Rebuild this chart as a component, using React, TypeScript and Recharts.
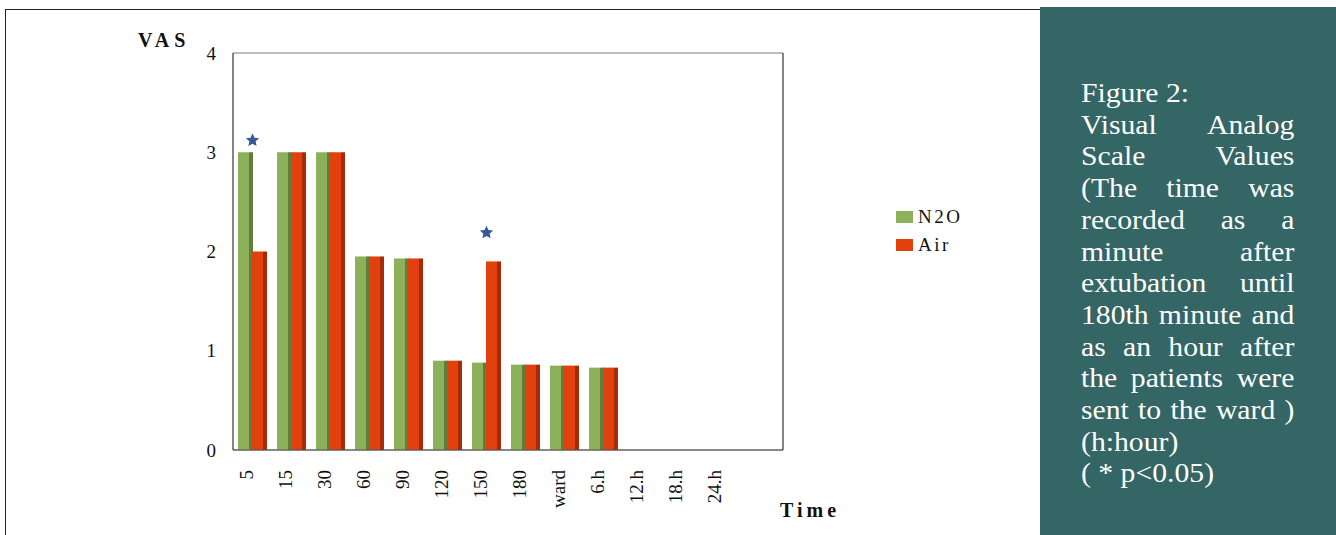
import React from "react";
import {
  ComposedChart,
  Bar,
  Scatter,
  XAxis,
  YAxis,
  CartesianGrid,
  Legend,
} from "recharts";

const categories = ["5", "15", "30", "60", "90", "120", "150", "180", "ward", "6.h", "12.h", "18.h", "24.h"];
const n2oValues: (number | null)[] = [3.0, 3.0, 3.0, 1.95, 1.93, 0.9, 0.88, 0.86, 0.85, 0.83, null, null, null];
const airValues: (number | null)[] = [2.0, 3.0, 3.0, 1.95, 1.93, 0.9, 1.9, 0.86, 0.85, 0.83, null, null, null];
const starValues: (number | null)[] = [3.12, null, null, null, null, null, 2.19, null, null, null, null, null, null];
const yTicks = [0, 1, 2, 3, 4];
const seriesNames = ["N2O", "Air"];
const seriesColors = ["#8DB05A", "#E2400C"];
const seriesSideColors = ["#5F7E3B", "#A52B09"];

const data = categories.map((c, i) => ({
  time: c,
  n2o: n2oValues[i],
  air: airValues[i],
  star: starValues[i],
}));

const SERIF = "'Liberation Serif', 'Times New Roman', serif";

const makeBarShape = (front: string, side: string) => (props: any) => {
  const { x, y, width, height } = props;
  if (!height || height <= 0 || !isFinite(y)) return <g />;
  const s = 4;
  return (
    <g>
      <rect x={x} y={y} width={width - s} height={height} fill={front} />
      <rect x={x + width - s} y={y} width={s} height={height} fill={side} />
    </g>
  );
};

const StarShape = (props: any) => {
  const { cx, cy, payload } = props;
  if (!payload || payload.star == null) return <g />;
  const pts: string[] = [];
  const R = 7;
  const r = 3.3;
  for (let k = 0; k < 10; k++) {
    const ang = -Math.PI / 2 + (k * Math.PI) / 5;
    const rad = k % 2 === 0 ? R : r;
    pts.push(`${cx + rad * Math.cos(ang)},${cy + rad * Math.sin(ang)}`);
  }
  return <polygon points={pts.join(" ")} fill="#35599A" />;
};

const XTick = (props: any) => {
  const { x, y, payload } = props;
  const tx = x - 6;
  const ty = y + 12;
  return (
    <text
      x={tx}
      y={ty}
      transform={`rotate(-90 ${tx} ${ty})`}
      textAnchor="end"
      dy="0.35em"
      fontFamily={SERIF}
      fontSize={19}
      fill="#111"
    >
      {payload.value}
    </text>
  );
};

const YTick = (props: any) => {
  const { x, y, payload } = props;
  return (
    <text x={x} y={y} textAnchor="end" dy="0.35em" fontFamily={SERIF} fontSize={19} fill="#111">
      {payload.value}
    </text>
  );
};

const LegendContent = () => (
  <div style={{ fontFamily: SERIF, fontSize: 19, letterSpacing: 2.5, color: "#111", lineHeight: "28px" }}>
    {seriesNames.map((n, i) => (
      <div key={n} style={{ display: "flex", alignItems: "center" }}>
        <span
          style={{
            display: "inline-block",
            width: 17,
            height: 12,
            background: seriesColors[i],
            marginRight: 5,
          }}
        />
        <span>{n}</span>
      </div>
    ))}
  </div>
);

export default function App() {
  return (
    <div
      style={{
        position: "absolute",
        left: 0,
        top: 0,
        width: 1336,
        height: 535,
        background: "#fff",
        overflow: "hidden",
      }}
    >
      <div
        style={{
          position: "absolute",
          left: 5,
          top: 9,
          width: 1040,
          height: 540,
          borderTop: "1px solid #222",
          borderLeft: "1px solid #222",
        }}
      />
      <div style={{ position: "absolute", left: 0, top: 0 }}>
        <ComposedChart
          width={1040}
          height={535}
          data={data}
          margin={{ top: 53, right: 256, bottom: 5, left: 0 }}
          barSize={15}
          barGap={-1}
        >
          <CartesianGrid horizontal={true} vertical={false} stroke="#7a7a7a" strokeWidth={1.2} />
          <XAxis
            dataKey="time"
            type="category"
            interval={0}
            height={80}
            padding={{ left: 0, right: 43 }}
            tickLine={false}
            axisLine={{ stroke: "#555", strokeWidth: 1.2 }}
            tick={<XTick />}
            label={{
              content: (p: any) => {
                const vb = p.viewBox;
                return (
                  <text
                    x={vb.x + vb.width - 3}
                    y={vb.y + 67}
                    fontFamily={SERIF}
                    fontWeight="bold"
                    fontSize={20}
                    letterSpacing={4}
                    fill="#111"
                  >
                    Time
                  </text>
                );
              },
            }}
          />
          <YAxis
            yAxisId="left"
            width={233}
            domain={[0, 4]}
            ticks={yTicks}
            tickLine={false}
            tickMargin={11}
            axisLine={{ stroke: "#333", strokeWidth: 1.2 }}
            tick={<YTick />}
            label={{
              content: (p: any) => {
                const vb = p.viewBox;
                return (
                  <text
                    x={vb.x + 138}
                    y={vb.y - 6}
                    fontFamily={SERIF}
                    fontWeight="bold"
                    fontSize={20}
                    letterSpacing={5}
                    fill="#111"
                  >
                    VAS
                  </text>
                );
              },
            }}
          />
          <YAxis
            yAxisId="right"
            orientation="right"
            width={1}
            domain={[0, 4]}
            ticks={yTicks}
            tick={false}
            tickLine={false}
            axisLine={{ stroke: "#333", strokeWidth: 1.2 }}
          />
          <Legend
            layout="vertical"
            align="center"
            verticalAlign="middle"
            content={<LegendContent />}
            wrapperStyle={{ left: 896, top: 203, width: 100, height: 60 }}
          />
          <Bar
            yAxisId="left"
            dataKey="n2o"
            name={seriesNames[0]}
            fill={seriesColors[0]}
            isAnimationActive={false}
            shape={makeBarShape(seriesColors[0], seriesSideColors[0])}
          />
          <Bar
            yAxisId="left"
            dataKey="air"
            name={seriesNames[1]}
            fill={seriesColors[1]}
            isAnimationActive={false}
            shape={makeBarShape(seriesColors[1], seriesSideColors[1])}
          />
          <Scatter
            yAxisId="left"
            dataKey="star"
            legendType="none"
            isAnimationActive={false}
            shape={<StarShape />}
          />
        </ComposedChart>
      </div>
      <div
        style={{
          position: "absolute",
          left: 1040,
          top: 7,
          width: 296,
          height: 528,
          background: "#336665",
        }}
      />
      <div
        style={{
          position: "absolute",
          left: 1081,
          top: 78,
          width: 194,
          transform: "scaleX(1.1)",
          transformOrigin: "left top",
          fontFamily: SERIF,
          fontSize: 27,
          lineHeight: "31.7px",
          color: "#fff",
        }}
      >
        <div>Figure 2:</div>
        <div style={{ textAlign: "justify", textAlignLast: "justify" }}>
          Visual Analog Scale Values (The time was recorded as a minute after extubation until 180th
          minute and as an hour after the patients were sent to the ward )
        </div>
        <div>(h:hour)</div>
        <div>( * p&lt;0.05)</div>
      </div>
    </div>
  );
}
